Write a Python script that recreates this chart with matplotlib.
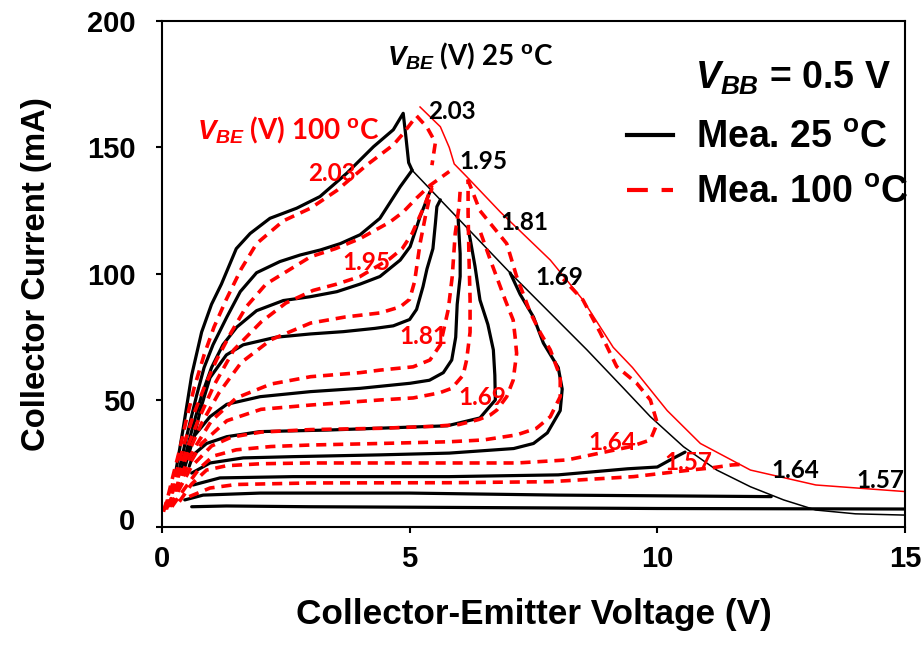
#!/usr/bin/env python3
"""
晶体管输出特性曲线 (Ic-Vce)，25 ºC 与 100 ºC 实测对比
"""

import matplotlib
matplotlib.use('Agg')
import matplotlib.pyplot as plt
from matplotlib.lines import Line2D
from matplotlib.transforms import ScaledTranslation

plt.rcParams['font.family'] = ['Liberation Sans', 'DejaVu Sans']
plt.rcParams['font.weight'] = 'bold'
plt.rcParams['mathtext.fontset'] = 'custom'
plt.rcParams['mathtext.rm'] = 'Liberation Sans:bold'
plt.rcParams['mathtext.bf'] = 'Liberation Sans:bold'
plt.rcParams['mathtext.it'] = 'Liberation Sans:italic:bold'

# ---- 25 ºC 实测 (黑色实线), Vce (V) / Ic (mA) ----
a25_v = [0.28, 0.42, 0.6, 0.8, 1.0, 1.2, 1.35, 1.5, 1.78, 2.18, 2.72, 3.19, 3.73, 4.27, 4.67, 4.87, 4.92, 4.98, 5.05]
a25_i = [22, 38, 60, 77, 88, 96, 103, 110, 116, 122, 126, 130.6, 139.8, 150.3, 157, 163.5, 155, 144, 141]
b25_v = [0.33, 0.5, 0.7, 0.85, 1.03, 1.31, 1.58, 1.91, 2.38, 2.79, 3.2, 3.6, 4.0, 4.4, 4.81, 5.05]
b25_i = [21, 36, 52, 63, 72, 83, 93, 100.5, 104.9, 107.5, 109.5, 112, 115.5, 122, 134.5, 141]
c25_v = [0.38, 0.6, 0.8, 1.0, 1.23, 1.51, 1.91, 2.45, 2.99, 3.53, 4.0, 4.4, 4.81, 5.01, 5.21, 5.41]
c25_i = [21, 38, 52, 63, 72, 79, 85.5, 89.5, 91, 93, 96, 99, 105.5, 110.8, 122.6, 132.5]
d25_v = [0.42, 0.65, 0.8, 0.97, 1.3, 1.64, 2.3, 3.0, 3.66, 4.3, 4.67, 5.0, 5.14, 5.27, 5.35, 5.47, 5.52, 5.55, 5.62]
d25_i = [21, 36, 48, 59, 68, 72, 75, 76.3, 77.2, 78.5, 79.5, 82, 86, 95, 102, 110, 120, 126.6, 129.3]
e25_v = [0.46, 0.63, 0.97, 1.31, 1.98, 3.0, 4.0, 5.01, 5.4, 5.68, 5.85, 5.93, 5.96, 6.02, 6.02, 5.98]
e25_i = [25, 35.5, 43.6, 48.5, 51.5, 53.5, 54.8, 56.8, 58, 61, 66, 75, 88, 99, 108, 121.5]
f25_v = [0.55, 0.63, 0.9, 1.31, 1.98, 3.33, 5.2, 5.76, 6.42, 6.73, 6.72, 6.69, 6.58, 6.42, 6.32, 6.22, 6.18]
f25_i = [24, 28.5, 33, 35.7, 37.7, 38.3, 39.6, 40, 43.1, 50.2, 60, 70, 80, 89.7, 103, 114, 117.8]
g25_v = [0.6, 0.97, 1.64, 2.65, 4.4, 5.8, 7.1, 7.5, 7.78, 8.04, 8.08, 8.0, 7.7, 7.5, 7.23, 7.03]
g25_i = [21.3, 25.3, 27.3, 27.8, 28.5, 29.2, 31, 33, 37.2, 46, 54.5, 63, 72.7, 83, 92, 100.4]
h25_v = [0.63, 1.17, 2.65, 5.8, 8.0, 9.4, 10.0, 10.26, 10.56]
h25_i = [16.6, 19.4, 19.9, 19.9, 20.6, 23, 23.7, 26.5, 29.6]
i25_v = [0.46, 0.83, 1.98, 5.0, 8.0, 12.3]
i25_i = [10.7, 12.6, 13.4, 13.4, 12.6, 12.0]
j25_v = [0.6, 1.3, 3.0, 5.2, 10.0, 15.0]
j25_i = [8.0, 8.3, 8.0, 7.8, 7.3, 7.1]
# 25 ºC 边界线 (细线)
edge25_v = [5.05, 6.0, 7.03, 8.58, 9.3, 9.86, 10.53, 11.2, 11.88, 12.55, 13.2, 14.0, 15.0]
edge25_i = [141, 121.5, 100.4, 70, 55.2, 43.6, 31.7, 22.5, 15.9, 10.7, 6.7, 5.2, 4.7]

# ---- 100 ºC 实测 (红色虚线) ----
a100_v = [0.03, 0.12, 0.22, 0.35, 0.5, 0.65, 0.85, 1.05, 1.3, 1.6, 1.91, 2.45, 3.0, 3.53, 4.13, 4.67, 4.87, 5.14, 5.35, 5.52, 5.45]
a100_i = [6, 12, 20, 30, 43, 55, 68, 79, 90, 102, 112, 121, 126, 133, 143, 151, 155.5, 162.5, 158, 152, 143]
b100_v = [0.05, 0.15, 0.28, 0.45, 0.65, 0.85, 1.1, 1.4, 1.7, 2.1, 2.6, 3.0, 3.5, 4.0, 4.6, 4.87, 5.14, 5.41, 5.8]
b100_i = [7, 13, 21, 33, 45, 55, 66, 77, 87, 96, 102, 106.8, 110, 114, 120.5, 124.5, 130, 135, 140.5]
c100_v = [0.07, 0.18, 0.32, 0.5, 0.75, 1.05, 1.45, 2.0, 2.5, 3.05, 3.53, 4.0, 4.6, 4.85, 5.05, 5.3, 5.45]
c100_i = [7, 13, 21, 31, 43, 56, 70, 81, 88.5, 93.5, 96, 99, 106, 110, 116, 127, 135]
d100_v = [0.09, 0.2, 0.35, 0.55, 0.8, 1.15, 1.6, 2.2, 3.0, 3.7, 4.4, 4.81, 5.0, 5.1, 5.21, 5.33, 5.45]
d100_i = [7, 13, 21, 30, 41, 53, 65, 74, 80.6, 83, 84.6, 87, 90, 97, 112, 124, 134]
e100_v = [0.11, 0.25, 0.42, 0.65, 1.0, 1.5, 2.2, 3.0, 4.0, 4.4, 5.07, 5.41, 5.62, 5.78, 5.86, 5.92, 6.0, 6.02]
e100_i = [8, 14, 22, 31, 42, 51, 56.5, 59.4, 61, 62, 63.3, 66, 72, 86, 99, 116, 127, 133]
f100_v = [0.13, 0.3, 0.5, 0.8, 1.31, 2.0, 3.0, 4.4, 5.07, 5.6, 5.85, 6.08, 6.15, 6.22, 6.22, 6.2, 6.18, 6.18]
f100_i = [8, 15, 23, 33, 42, 46.5, 48.2, 50.2, 51, 53, 54.8, 60, 66, 77, 90, 105, 124, 137]
k100_v = [0.16, 0.35, 0.6, 1.0, 1.4, 2.0, 3.0, 4.4, 5.5, 6.0, 6.4, 6.63, 6.76, 6.96, 7.09, 7.16, 7.13, 7.09, 6.93, 6.63, 6.42]
k100_i = [8, 15, 24, 32, 35.5, 37.5, 38.5, 39, 39.8, 40.5, 42.5, 44.3, 46.2, 51.5, 58, 68.6, 75, 81.8, 89.7, 105.5, 117]
g100_v = [0.2, 0.45, 0.75, 1.03, 1.5, 2.2, 3.0, 4.4, 5.82, 6.49, 7.16, 7.56, 7.84, 8.04, 8.04, 7.84, 7.64, 7.43, 7.16, 6.96, 6.42, 6.15]
g100_i = [8, 15, 23, 28, 30.5, 31.8, 32.4, 33, 33.7, 34.4, 36.4, 39, 43.6, 51.5, 59.4, 70, 76.7, 85, 99, 112, 125, 138.5]
h100_v = [0.35, 0.6, 0.9, 1.3, 2.0, 3.0, 5.82, 7.17, 8.18, 9.45, 9.86, 10.0, 9.86, 9.58, 9.18, 8.85, 8.5, 8.1]
h100_i = [10, 17, 22.5, 24.2, 25, 25.3, 25.3, 25.3, 26.5, 31.7, 34.4, 41, 50.2, 56.9, 63.4, 76.7, 89.7, 98]
i100_v = [0.55, 0.97, 1.5, 3.0, 5.82, 7.84, 9.52, 10.67, 11.07, 11.5, 11.75]
i100_i = [12, 15.4, 16.8, 17.4, 17.5, 17.9, 19.9, 22.5, 23.3, 24.5, 24.8]
# 100 ºC 边界线 (细线)
edge100_v = [5.21, 5.62, 5.8, 5.9, 6.15, 6.83, 7.84, 8.5, 9.11, 9.5, 10.2, 10.87, 11.88, 13.2, 15.0]
edge100_i = [166, 158.2, 150, 143.5, 138.5, 124.5, 105.5, 89.7, 71, 63, 46, 33, 22.5, 16.6, 14]

# VBE 标注 (文字, Vce, Ic)
vbe_labels = ['2.03', '1.95', '1.81', '1.69', '1.64', '1.57']
lab25_v = [5.86, 6.48, 7.31, 8.03, 12.78, 14.5]
lab25_i = [164.4, 144.3, 120.2, 98.8, 22.5, 18.2]
lab100_v = [3.43, 4.12, 5.27, 6.46, 9.09, 10.62]
lab100_i = [139.9, 104.7, 75.1, 51.2, 33.2, 25.3]

curves25 = [(a25_v, a25_i), (b25_v, b25_i), (c25_v, c25_i), (d25_v, d25_i), (e25_v, e25_i),
            (f25_v, f25_i), (g25_v, g25_i), (h25_v, h25_i), (i25_v, i25_i), (j25_v, j25_i)]
curves100 = [(a100_v, a100_i), (b100_v, b100_i), (c100_v, c100_i), (d100_v, d100_i), (e100_v, e100_i),
             (f100_v, f100_i), (k100_v, k100_i), (g100_v, g100_i), (h100_v, h100_i), (i100_v, i100_i)]

RED = '#ff0000'

fig = plt.figure(figsize=(9.24, 6.47), dpi=100)
ax = fig.add_axes([0.1753, 0.1855, 0.8041, 0.7821])

for v, i in curves25:
    ax.plot(v, i, color='black', lw=2.3, solid_capstyle='round', solid_joinstyle='round')
ax.plot(edge25_v, edge25_i, color='black', lw=1.1)
ax.plot(edge100_v, edge100_i, color=RED, lw=1.1)
for v, i in curves100:
    ax.plot(v, i, color=RED, lw=2.6, dashes=(2.8, 1.9), dash_capstyle='butt')

lab_font = dict(family=['Lato', 'DejaVu Sans'], fontweight='bold', fontsize=17.5,
                ha='center', va='center')
for t, x, y in zip(vbe_labels, lab25_v, lab25_i):
    ax.text(x, y, t, color='black', **lab_font)
for t, x, y in zip(vbe_labels, lab100_v, lab100_i):
    ax.text(x, y, t, color=RED, **lab_font)
ann_font = dict(lab_font, fontsize=20)
ax.text(6.22, 185.8, r'$V_{BE}$ (V) 25 $^{\mathbf{o}}$C', color='black', **ann_font)
ax.text(2.54, 156.9, r'$V_{BE}$ (V) 100 $^{\mathbf{o}}$C', color=RED, **ann_font)

ax.set_xlim(0, 15)
ax.set_ylim(0, 200)
ax.set_xticks([0, 5, 10, 15])
ax.set_yticks([0, 50, 100, 150, 200])
ax.tick_params(direction='out', length=4, width=1.5, labelsize=21)
ax.tick_params(axis='y', pad=15)
ax.tick_params(axis='x', pad=9)
for s in ax.spines.values():
    s.set_linewidth(1.5)
# y 轴 "0" 标签略微上移
lab0 = ax.get_yticklabels()[0]
lab0.set_transform(lab0.get_transform() + ScaledTranslation(0, 8 / 100, fig.dpi_scale_trans))

ax.set_xlabel('Collector-Emitter Voltage (V)', fontsize=25.3, fontweight='bold', labelpad=18)
ax.set_ylabel('Collector Current (mA)', fontsize=23.7, fontweight='bold', labelpad=25)

# 图例
ax.text(0.7174, 0.887, r'$V_{BB}$ = 0.5 V', transform=ax.transAxes, fontsize=27,
        fontweight='bold', ha='left', va='center')
handles = [Line2D([], [], color='black', lw=3),
           Line2D([], [], color=RED, lw=3, dashes=(5, 3.3))]
ax.legend(handles, [r'Mea. 25 $^{\mathbf{o}}$C', r'Mea. 100 $^{\mathbf{o}}$C'],
          loc='upper left', bbox_to_anchor=(0.6258, 0.805), frameon=False,
          borderpad=0, borderaxespad=0, handlelength=1.22, handletextpad=0.62,
          labelspacing=0.52, prop={'size': 27, 'weight': 'bold'})

fig.savefig('out.png', dpi=100)
